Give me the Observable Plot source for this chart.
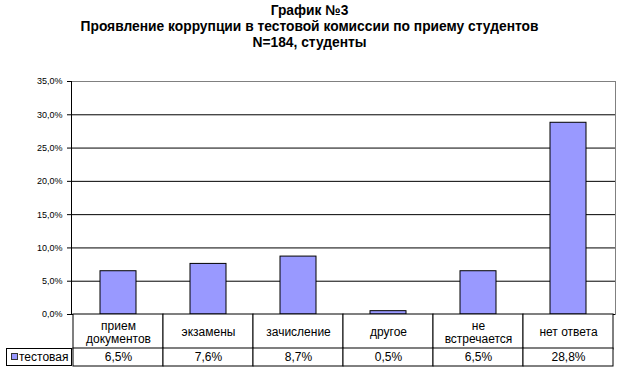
<!DOCTYPE html>
<html>
<head>
<meta charset="utf-8">
<script src="https://cdn.jsdelivr.net/npm/d3@7"></script>
<script src="https://cdn.jsdelivr.net/npm/@observablehq/plot@0.6"></script>
<style>
  html, body { margin: 0; padding: 0; background: white; }
  #wrap { position: relative; width: 619px; height: 372px; overflow: hidden; font-family: "Liberation Sans", Arial, sans-serif; color: black; }
  #title { position: absolute; left: 0; top: 3px; width: 619px; text-align: center; font-weight: bold; font-size: 13.8px; line-height: 16px; }
  .abs { position: absolute; }
  #legendCell { position: absolute; left: 6px; top: 348px; width: 64px; height: 16px; border: 1px solid black; font-size: 12px; line-height: 16px; white-space: nowrap; }
  #legendCell span.sw { display: inline-block; width: 5px; height: 5px; background: #9999FF; border: 1px solid #333; margin-left: 4px; margin-right: 1px; vertical-align: 1px; }
  svg { overflow: visible; }
</style>
</head>
<body>
<div id="wrap">
  <div id="title">График №3<br>Проявление коррупции в тестовой комиссии по приему студентов<br>N=184, студенты</div>
  <div id="main" class="abs" style="left:0;top:60px;"></div>
  <div id="row1" class="abs" style="left:70px;top:313px;"></div>
  <div id="row2" class="abs" style="left:70px;top:347px;"></div>
  <div id="legendCell"><span class="sw"></span>тестовая</div>
</div>
<script>
const categories = ["прием\nдокументов", "экзамены", "зачисление", "другое", "не\nвстречается", "нет ответа"];
const seriesName = "тестовая";
const values = [6.5, 7.6, 8.7, 0.5, 6.5, 28.8];
const yTicks = [0, 5, 10, 15, 20, 25, 30, 35];
const gridTicks = [5, 10, 15, 20, 25, 30];

const fmt = v => v.toFixed(1).replace(".", ",") + "%";
const data = categories.map((c, i) => ({cat: c, value: values[i]}));

const main = Plot.plot({
  width: 619,
  height: 256,
  marginTop: 21,
  marginBottom: 2,
  marginLeft: 71,
  marginRight: 4,
  style: {fontFamily: "'Liberation Sans', Arial, sans-serif", fontSize: "9px", color: "black", background: "transparent", overflow: "visible"},
  x: {domain: categories, paddingInner: 0.6, paddingOuter: 0.3, axis: null},
  y: {domain: [0, 35], axis: null},
  marks: [
    Plot.frame({stroke: "#808080"}),
    Plot.ruleY(gridTicks, {stroke: "black"}),
    Plot.barY(data, {x: "cat", y: "value", fill: "#9999FF", stroke: "black"}),
    Plot.ruleY([0], {stroke: "black"}),
    Plot.frame({anchor: "left", stroke: "black"}),
    Plot.axisY({ticks: yTicks, tickSize: 4, tickPadding: 5, tickFormat: fmt, label: null, stroke: "black", fill: "black"})
  ]
});
document.getElementById("main").appendChild(main);

const row1 = Plot.plot({
  width: 546,
  height: 37,
  marginTop: 1,
  marginBottom: 1,
  marginLeft: 1,
  marginRight: 1,
  style: {fontFamily: "'Liberation Sans', Arial, sans-serif", fontSize: "12px", color: "black", background: "transparent", overflow: "visible"},
  x: {domain: categories, padding: 0, axis: null},
  marks: [
    Plot.cell(categories, {x: d => d, fill: "white", stroke: "black"}),
    Plot.text(categories, {x: d => d, text: d => d, frameAnchor: "middle", lineHeight: 1.1, fill: "black", fontSize: 12})
  ]
});
document.getElementById("row1").appendChild(row1);

const row2 = Plot.plot({
  width: 546,
  height: 20,
  marginTop: 1,
  marginBottom: 1,
  marginLeft: 1,
  marginRight: 1,
  style: {fontFamily: "'Liberation Sans', Arial, sans-serif", fontSize: "12px", color: "black", background: "transparent", overflow: "visible"},
  x: {domain: categories, padding: 0, axis: null},
  marks: [
    Plot.cell(data, {x: "cat", fill: "white", stroke: "black"}),
    Plot.text(data, {x: "cat", text: d => fmt(d.value), frameAnchor: "middle", fill: "black", fontSize: 12})
  ]
});
document.getElementById("row2").appendChild(row2);
</script>
</body>
</html>
